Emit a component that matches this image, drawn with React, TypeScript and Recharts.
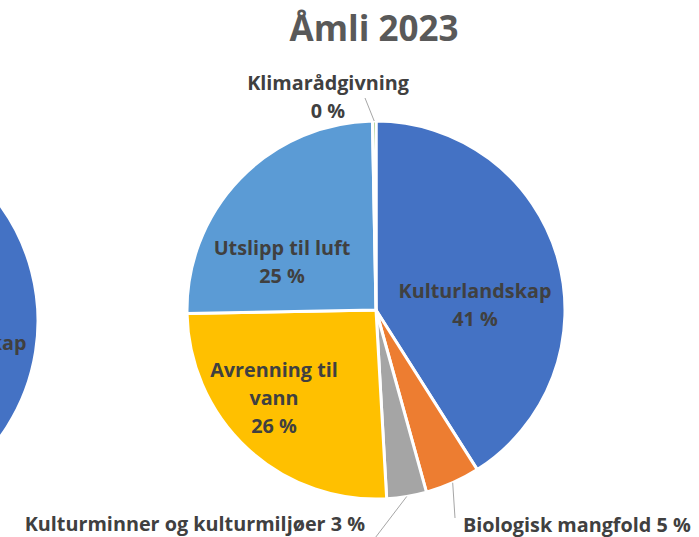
import { PieChart, Pie, Cell } from 'recharts';

// Åmli 2023 – share per category
const categories = [
  'Kulturlandskap',
  'Biologisk mangfold',
  'Kulturminner og kulturmiljøer',
  'Avrenning til vann',
  'Utslipp til luft',
  'Klimarådgivning',
];
const shares2023 = [41.0, 4.7, 3.4, 25.6, 25.0, 0.3];
const sliceColors = ['#4472C4', '#ED7D31', '#A5A5A5', '#FFC000', '#5B9BD5', '#70AD47'];

// neighbouring chart, cut off at the left edge: only its Kulturlandskap slice is visible
const neighbourShares = [55, 5, 4, 16, 20, 0];

const FONT = '"Open Sans", Lato, sans-serif';
const LABEL_COLOR = '#404040';
const LINE_GAP = 28;
const RAD = Math.PI / 180;

type LabelLayout = {
  dx: number;
  dy: number;
  anchor: 'start' | 'middle' | 'end';
  inline?: boolean;
  wrap?: number;
  leader?: [number, number];
};

// label placement relative to the pie centre (px)
const mainLayout: LabelLayout[] = [
  { dx: 99, dy: -20, anchor: 'middle' },
  { dx: 87, dy: 214, anchor: 'start', inline: true, leader: [79, 208] },
  { dx: -11, dy: 213, anchor: 'end', inline: true, leader: [-4, 232] },
  { dx: -102, dy: 59, anchor: 'middle', wrap: 14 },
  { dx: -94, dy: -63, anchor: 'middle' },
  { dx: -48, dy: -228, anchor: 'middle', leader: [-11, -212] },
];

const neighbourLayout: LabelLayout[] = [{ dx: 109, dy: 21, anchor: 'middle' }];

const mainData = categories.map((name, i) => ({ name, value: shares2023[i] }));
const neighbourData = categories.map((name, i) => ({ name, value: neighbourShares[i] }));

function wrapText(text: string, max: number): string[] {
  const out: string[] = [];
  let cur = '';
  text.split(' ').forEach((w) => {
    const next = cur ? `${cur} ${w}` : w;
    if (next.length > max && cur) {
      out.push(cur);
      cur = w;
    } else {
      cur = next;
    }
  });
  if (cur) out.push(cur);
  return out;
}

function makeLabel(layouts: LabelLayout[]) {
  return (props: any) => {
    const { cx, cy, midAngle, outerRadius, percent, index, name } = props;
    const lay = layouts[index];
    if (!lay) return null;
    const pct = `${Math.round(percent * 100)} %`;
    const lines = lay.inline ? [`${name} ${pct}`] : [...wrapText(name, lay.wrap ?? 99), pct];
    const x = cx + lay.dx;
    const y = cy + lay.dy;
    let leader = null;
    if (lay.leader) {
      const sx = cx + outerRadius * Math.cos(-midAngle * RAD);
      const sy = cy + outerRadius * Math.sin(-midAngle * RAD);
      leader = (
        <line x1={sx} y1={sy} x2={cx + lay.leader[0]} y2={cy + lay.leader[1]} stroke="#A6A6A6" strokeWidth={1} />
      );
    }
    return (
      <g key={`lbl-${index}`}>
        {leader}
        <text
          x={x}
          y={y}
          textAnchor={lay.anchor}
          fill={LABEL_COLOR}
          fontFamily={FONT}
          fontWeight={700}
          fontSize={19.8}
        >
          {lines.map((l, i) => (
            <tspan key={i} x={x} y={y + i * LINE_GAP} dominantBaseline="central">
              {l}
            </tspan>
          ))}
        </text>
      </g>
    );
  };
}

export default function App() {
  return (
    <div style={{ position: 'absolute', left: 0, top: 0, width: 699, height: 537, background: '#fff', overflow: 'hidden' }}>
      <PieChart width={699} height={537} margin={{ top: 0, right: 0, bottom: 0, left: 0 }}>
        <Pie
          data={neighbourData}
          dataKey="value"
          nameKey="name"
          cx={-159}
          cy={321}
          outerRadius={197}
          startAngle={90}
          endAngle={-270}
          stroke="#fff"
          strokeWidth={3}
          isAnimationActive={false}
          labelLine={false}
          label={makeLabel(neighbourLayout)}
        >
          {neighbourData.map((d, i) => (
            <Cell key={`n-${i}`} fill={sliceColors[i]} />
          ))}
        </Pie>
        <Pie
          data={mainData}
          dataKey="value"
          nameKey="name"
          cx={376}
          cy={310}
          outerRadius={189}
          startAngle={90}
          endAngle={-270}
          stroke="#fff"
          strokeWidth={3}
          isAnimationActive={false}
          labelLine={false}
          label={makeLabel(mainLayout)}
        >
          {mainData.map((d, i) => (
            <Cell key={`m-${i}`} fill={sliceColors[i]} />
          ))}
        </Pie>
      </PieChart>
      <div
        style={{
          position: 'absolute',
          left: 0,
          width: 748,
          top: 10,
          textAlign: 'center',
          fontFamily: FONT,
          fontWeight: 700,
          fontSize: 35,
          lineHeight: '36px',
          color: '#595959',
        }}
      >
        Åmli 2023
      </div>
    </div>
  );
}
